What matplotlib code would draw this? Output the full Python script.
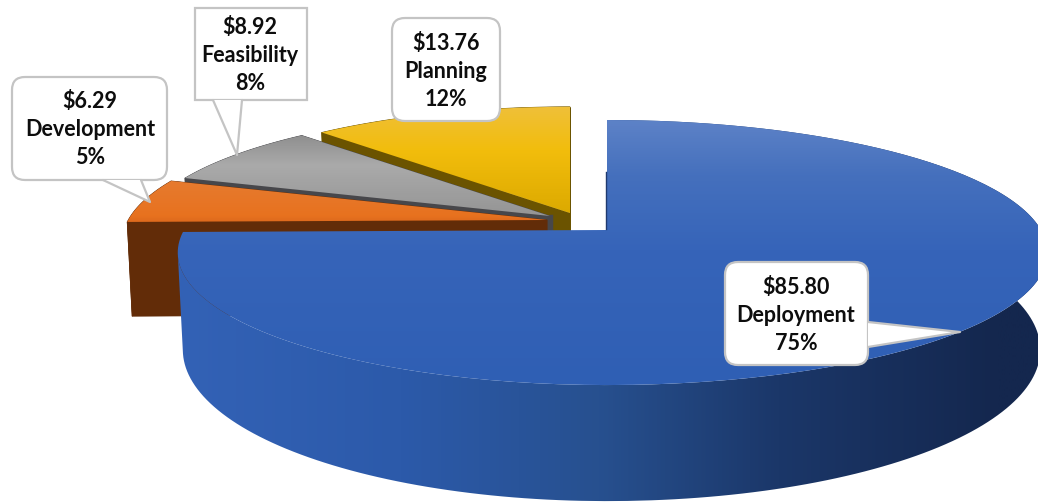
import matplotlib
matplotlib.use('Agg')
import matplotlib.pyplot as plt
import numpy as np
from matplotlib.colors import LinearSegmentedColormap
from matplotlib.patches import FancyBboxPatch, PathPatch, Polygon
from matplotlib.path import Path

categories = ['Deployment', 'Development', 'Feasibility', 'Planning']
costs = [85.80, 6.29, 8.92, 13.76]

W, H = 1038, 504
K = 0.17          # perspective strength
TOP_A = 128.7     # vertical scale of the top plane
BASE_A = 147.0    # vertical scale of the bottom plane
DEPTH = 94.0

fig = plt.figure(figsize=(W / 100, H / 100), dpi=100)
ax = fig.add_axes([0, 0, 1, 1])
ax.axis('off')
z = [1]


def nextz():
    z[0] += 1
    return z[0]


def project(theta, ax_x, ax_y, rl, rr, a, scale):
    u = np.sin(theta)
    v = np.cos(theta)
    den = 1 + K * v * scale
    r = np.where(u > 0, rr, rl)
    return ax_x + r * scale * u / den, ax_y - a * scale * v / den


def grad_fill(pts, stops, vertical=True):
    # gradient image clipped to a polygon, stops are (pixel position, colour)
    lo, hi = (0, H) if vertical else (0, W)
    pos = [(p - lo) / (hi - lo) for p, c in stops]
    cols = [c for p, c in stops]
    pos = [0] + pos + [1]
    cols = [cols[0]] + cols + [cols[-1]]
    cmap = LinearSegmentedColormap.from_list('g', list(zip(pos, cols)))
    g = np.linspace(0, 1, 512)
    g = g[:, None] if vertical else g[None, :]
    zz = nextz()
    im = ax.imshow(g, cmap=cmap, vmin=0, vmax=1, extent=[0, W, H, 0], aspect='auto',
                   origin='upper', zorder=zz, interpolation='bilinear')
    patch = PathPatch(Path(pts), transform=ax.transData, fc='none', ec='none')
    ax.add_patch(patch)
    im.set_clip_path(patch)


def draw_slice(t0, t1, apex, scale, top_stops, rim_stops, side_col, wall_end=None):
    ax_x, ax_y = apex
    t = np.linspace(t0, t1, 200)
    tx, ty = project(t, ax_x, ax_y, 423, 434, TOP_A, scale)
    bx, by = project(t, ax_x, ax_y + DEPTH, 418, 427, BASE_A, scale)
    if wall_end is None:
        # outer wall and the two cut faces
        rim = np.column_stack([np.r_[tx, bx[::-1]], np.r_[ty, by[::-1]]])
        ax.add_patch(Polygon(rim, fc=rim_stops, ec=rim_stops, lw=0.5, zorder=nextz()))
        for i in (-1, 0):
            face = [(ax_x, ax_y), (tx[i], ty[i]), (bx[i], by[i]), (ax_x, ax_y + DEPTH)]
            ax.add_patch(Polygon(face, fc=side_col, ec=side_col, lw=0.5, zorder=nextz()))
    else:
        # big slice: only the front of the wall shows, stop it at the widest point
        w = np.linspace(t0, wall_end, 200)
        wx, wy = project(w, ax_x, ax_y, 423, 434, TOP_A, scale)
        vx, vy = project(w, ax_x, ax_y + DEPTH, 418, 427, BASE_A, scale)
        rim = np.column_stack([np.r_[wx, vx[::-1]], np.r_[wy, vy[::-1]]])
        grad_fill(rim, rim_stops, vertical=False)
    # top face
    top = np.column_stack([np.r_[ax_x, tx], np.r_[ax_y, ty]])
    grad_fill(top, top_stops)


def callout(x0, y0, x1, y1, rad, tail=None):
    if rad > 0:
        box = FancyBboxPatch((x0 + rad, y0 + rad), x1 - x0 - 2 * rad, y1 - y0 - 2 * rad,
                             boxstyle=f'round,pad={rad},rounding_size={rad}',
                             fc='white', ec='#c4c4c4', lw=1.6, zorder=50)
    else:
        box = Polygon([(x0, y0), (x1, y0), (x1, y1), (x0, y1)], fc='white', ec='#c4c4c4',
                      lw=1.6, zorder=50)
    ax.add_patch(box)
    if tail:
        ax.add_patch(Polygon(tail, fc='white', ec='none', zorder=51))
        xs, ys = zip(*tail)
        ax.plot(xs, ys, color='#c4c4c4', lw=1.6, zorder=52, solid_capstyle='round')


# clockwise from twelve o'clock
total = sum(costs)
edges = np.r_[0, np.cumsum(costs)] / total * 2 * np.pi

blue_top = [(120, '#5d82c7'), (175, '#4570bd'), (250, '#3664b9'), (385, '#2f5fb4')]
blue_rim = [(180, '#3362b6'), (400, '#2c5aaa'), (600, '#27508f'), (780, '#1b3769'), (1000, '#14274e')]
orange_top = [(183, '#e67a2e'), (215, '#e8721f'), (225, '#d9661c')]
gray_top = [(135, '#8f8f8f'), (165, '#aaaaaa'), (215, '#959595')]
yellow_top = [(105, '#efc03a'), (150, '#f2bd0c'), (215, '#dba900')]

# back to front
draw_slice(edges[3], edges[4], (570, 213), 0.96, yellow_top, '#6b5300', '#6b5300')
draw_slice(edges[2], edges[3], (550, 216), 0.96, gray_top, '#47474b', '#47474b')
ax.plot([551, 551], [216, 229], color='#47474b', lw=2.5, zorder=nextz())
draw_slice(edges[1], edges[2], (547, 220), 0.99, orange_top, '#622c08', '#622c08')
draw_slice(edges[0], edges[1], (607, 230), 1.0, blue_top, blue_rim, '#1a3469',
           wall_end=np.radians(260))
ax.plot([606, 606], [172, 229], color='#1f3a70', lw=1.0, zorder=nextz())

callout(725, 262, 868, 365, 13,
        tail=[(868, 322), (960, 332), (868, 347)])
callout(392, 18, 500, 121, 13)
callout(195, 8, 307, 100, 0,
        tail=[(213, 100), (237, 155), (242, 100)])
callout(12, 77, 167, 180, 13,
        tail=[(103, 180), (150, 202), (141, 180)])

# text block centre for each category
label_pos = {'Deployment': (796, 315), 'Development': (90, 129),
             'Feasibility': (250, 56), 'Planning': (446, 71)}
for name, cost in zip(categories, costs):
    cx, cy = label_pos[name]
    pct = round(cost / total * 100)
    for dy, s in zip((-28, 0, 28), (f'${cost:.2f}', name, f'{pct}%')):
        ax.text(cx, cy + dy, s.replace('$', r'\$'), ha='center', va='center', fontsize=15.5,
                family='Lato', weight='bold', color='#0d0d0d', zorder=60)

ax.set_xlim(0, W)
ax.set_ylim(H, 0)
fig.savefig('out.png', dpi=100, facecolor='white')
